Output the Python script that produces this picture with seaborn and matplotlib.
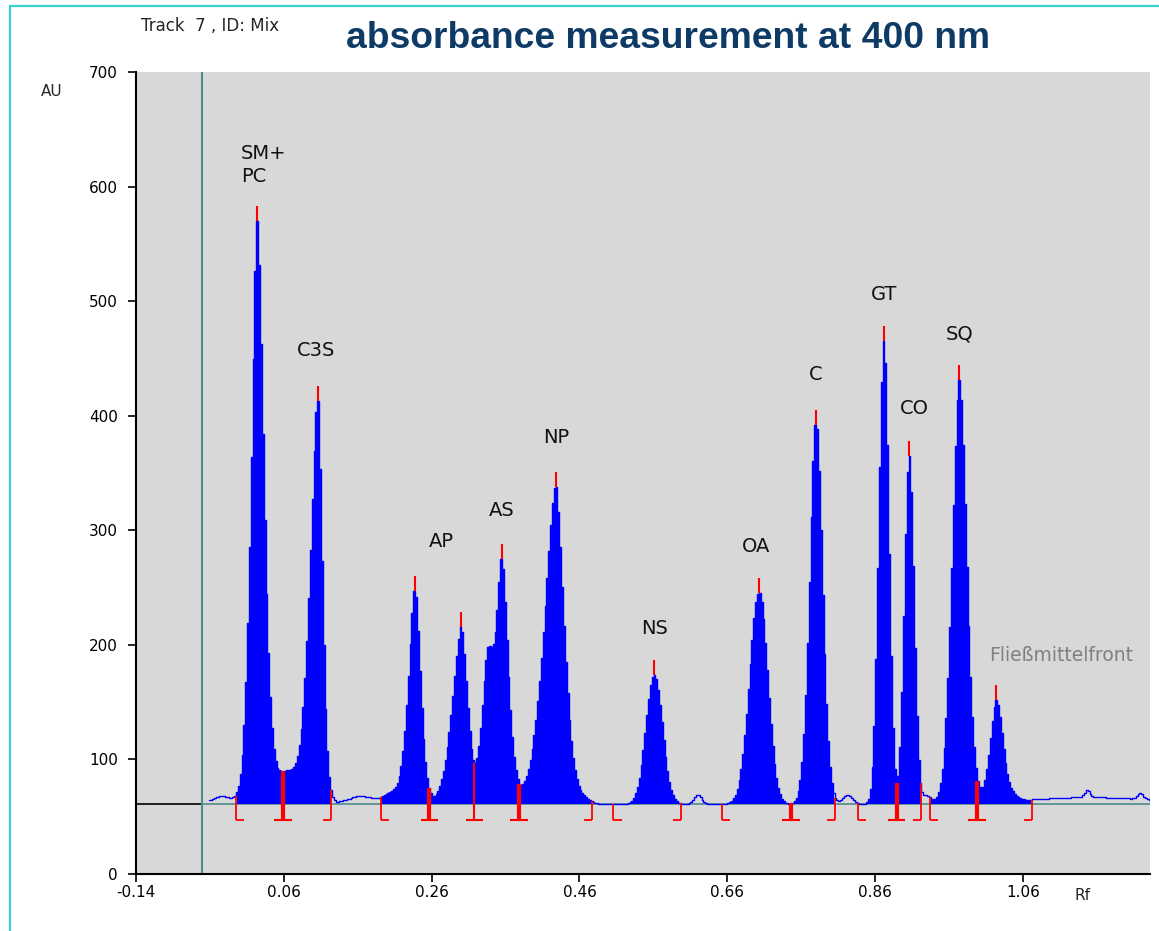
import numpy as np
import matplotlib
matplotlib.use("Agg")
import matplotlib.pyplot as plt
import seaborn as sns
from matplotlib.lines import Line2D

# ---------------- data ----------------
baseline_au = 61

peak_labels = ["SM+\nPC", "C3S", "AP", "", "", "AS", "NP", "NS", "OA", "C", "GT", "CO", "SQ", ""]
peak_rf = [0.024, 0.106, 0.2375, 0.300, 0.336, 0.355, 0.428, 0.561, 0.703, 0.780, 0.872, 0.906, 0.974, 1.024]
peak_au = [570, 417, 250, 217, 197, 277, 341, 174, 246, 396, 466, 366, 431, 152]
peak_hw_left = [0.0090, 0.0120, 0.0101, 0.0135, 0.0095, 0.0081, 0.0176, 0.0129, 0.0149, 0.0097, 0.0081, 0.0074, 0.0110, 0.0095]
peak_hw_right = [0.0097, 0.0066, 0.0081, 0.0095, 0.0095, 0.0095, 0.0122, 0.0129, 0.0135, 0.0097, 0.0074, 0.0074, 0.0110, 0.0095]
peak_shape = [1.6, 1.6, 1.6, 1.6, 1.8, 1.6, 1.6, 2.0, 2.0, 1.8, 2.0, 2.0, 1.8, 1.8]
peak_marked = [True, True, True, True, False, True, True, True, True, True, True, True, True, True]

# small baseline features (rf, height above baseline, half width)
bump_rf = [-0.024, 0.063, 0.165, 0.205, 0.465, 0.620, 0.823, 0.929, 1.040, 1.150, 1.147, 1.219]
bump_au = [7, 27, 7, 8, 4, 8, 8, 7, 6, 6, 6, 5]
bump_hw = [0.016, 0.016, 0.022, 0.012, 0.012, 0.006, 0.008, 0.008, 0.012, 0.10, 0.004, 0.005]

# integration regions and peak separators
region_start = [-0.005, 0.191, 0.506, 0.653, 0.837, 0.934]
region_end = [0.124, 0.477, 0.597, 0.806, 0.922, 1.072]
split_rf = [0.059, 0.257, 0.318, 0.378, 0.746, 0.889, 0.998]
split_thick = [True, True, False, True, True, True, True]

scan_start, scan_end, scan_step = -0.041, 1.2325, 0.0025
front_rf = -0.051

y_ticks = [0, 100, 200, 300, 400, 500, 600, 700]
x_ticks = [-0.14, 0.06, 0.26, 0.46, 0.66, 0.86, 1.06]

# ---------------- build densitogram ----------------
def shape(x, c, hl, hr, p):
    d = x - c
    hw = np.where(d < 0, hl, hr)
    return np.exp(-np.log(2) * np.abs(d / hw) ** p)

def bumps(x):
    out = np.zeros_like(np.asarray(x, dtype=float))
    for c, h, w in zip(bump_rf, bump_au, bump_hw):
        out = out + h * shape(x, c, w, w, 2.0)
    return out

prf = np.array(peak_rf)
M = np.array([[shape(r, c, hl, hr, p) for c, hl, hr, p in
               zip(peak_rf, peak_hw_left, peak_hw_right, peak_shape)] for r in prf])
target = np.array(peak_au) - baseline_au - bumps(prf)
amps = np.linalg.solve(M, target)

grid = np.arange(scan_start, scan_end, scan_step)
signal = baseline_au + bumps(grid)
for a, c, hl, hr, p in zip(amps, peak_rf, peak_hw_left, peak_hw_right, peak_shape):
    signal = signal + a * shape(grid, c, hl, hr, p)

def sig_at(x):
    return signal[np.argmin(np.abs(grid - x))]

# ---------------- figure ----------------
sns.set_theme(style="white")
plt.rcParams["font.family"] = ["DejaVu Sans"]

fig = plt.figure(figsize=(11.59, 9.31), dpi=100)
fig.patch.set_facecolor("white")
ax = fig.add_axes([136 / 1159, 1 - 874 / 931, (1150 - 136) / 1159, (874 - 72) / 931])
ax.set_facecolor("#D8D8D8")
ax.set_xlim(-0.14, 1.232)
ax.set_ylim(0, 700)

blue = "#0000FF"
red = "#FF0000"
teal = "#4E8C8C"

# baseline and front lines
ax.hlines(baseline_au, -0.14, front_rf, color="black", lw=1.2, zorder=1)
ax.hlines(baseline_au, front_rf, 1.232, color=teal, lw=1.2, zorder=1)
ax.vlines(front_rf, 0, 700, color=teal, lw=1.5, zorder=1)

# filled integration regions
for s, e in zip(region_start, region_end):
    m = (grid >= s - 1e-9) & (grid <= e + 1e-9)
    ax.fill_between(grid[m], baseline_au, signal[m], step="mid", color=blue, lw=0, zorder=2)

# trace
sns.lineplot(x=grid, y=signal, ax=ax, color=blue, lw=1.0, drawstyle="steps-mid",
             estimator=None, sort=False, zorder=3)

# integration markers
foot_y = 47
for s in region_start:
    ax.vlines(s, foot_y, sig_at(s), color=red, lw=1.3, zorder=4)
    ax.hlines(foot_y, s, s + 0.011, color=red, lw=1.3, zorder=4)
for e in region_end:
    ax.vlines(e, foot_y, sig_at(e), color=red, lw=1.3, zorder=4)
    ax.hlines(foot_y, e - 0.011, e, color=red, lw=1.3, zorder=4)
for sp, thick in zip(split_rf, split_thick):
    ax.vlines(sp, foot_y, sig_at(sp), color=red, lw=3.0 if thick else 1.5, zorder=4)
    ax.hlines(foot_y, sp - 0.012, sp + 0.012, color=red, lw=1.5, zorder=4)

# peak max ticks
for r, mk in zip(peak_rf, peak_marked):
    if mk:
        top = sig_at(r)
        ax.vlines(r, top, top + 13, color=red, lw=1.5, zorder=4)

# peak labels
label_dx = {"AP": 0.035, "CO": 0.007, "OA": -0.004, "C3S": -0.003}
for name, r, h in zip(peak_labels, peak_rf, peak_au):
    if not name:
        continue
    if "\n" in name:
        ax.text(0.002, h + 49, name, ha="left", va="center", fontsize=14,
                linespacing=1.3, color="#111111", zorder=5)
    else:
        ax.text(r + label_dx.get(name, 0.0), h + 40, name, ha="center", va="center",
                fontsize=14, color="#111111", zorder=5)
ax.text(1.112, 191, "Fließmittelfront", ha="center", va="center", fontsize=13.5,
        color="#808080", zorder=5)

# axes styling
for side in ["top", "right"]:
    ax.spines[side].set_visible(False)
for side in ["left", "bottom"]:
    ax.spines[side].set_color("black")
    ax.spines[side].set_linewidth(1.5)
ax.set_yticks(y_ticks)
ax.set_xticks(x_ticks)
ax.set_xticklabels([f"{t:.2f}" for t in x_ticks])
ax.tick_params(axis="y", direction="out", length=6, width=1.2, color="black",
               labelsize=11, labelcolor="black", left=True, pad=7)
ax.tick_params(axis="x", direction="out", length=6, width=1.2, color="black",
               labelsize=11, labelcolor="black", bottom=True, pad=2)
ax.set_xlabel("")
ax.set_ylabel("")
ax.grid(False)

fig.text(52 / 1159, 1 - 92 / 931, "AU", ha="center", va="center", fontsize=11)
fig.text(1083 / 1159, 1 - 895 / 931, "Rf", ha="center", va="center", fontsize=11)
fig.text(210 / 1159, 1 - 26 / 931, "Track  7 , ID: Mix", ha="center", va="center", fontsize=12)
fig.text(668 / 1159, 1 - 38 / 931, "absorbance measurement at 400 nm", ha="center", va="center",
         fontsize=26.8, fontweight="bold", color="#0D3B66", family=["Liberation Sans", "DejaVu Sans"])

# cyan frame (left and top edges)
cyan = "#3ACFCF"
fig.add_artist(Line2D([10 / 1159, 10 / 1159], [0, 1 - 6 / 931], transform=fig.transFigure,
                      color=cyan, lw=1.6))
fig.add_artist(Line2D([10 / 1159, 1], [1 - 6 / 931, 1 - 6 / 931], transform=fig.transFigure,
                      color=cyan, lw=1.6))

fig.savefig("out.png", dpi=100)
